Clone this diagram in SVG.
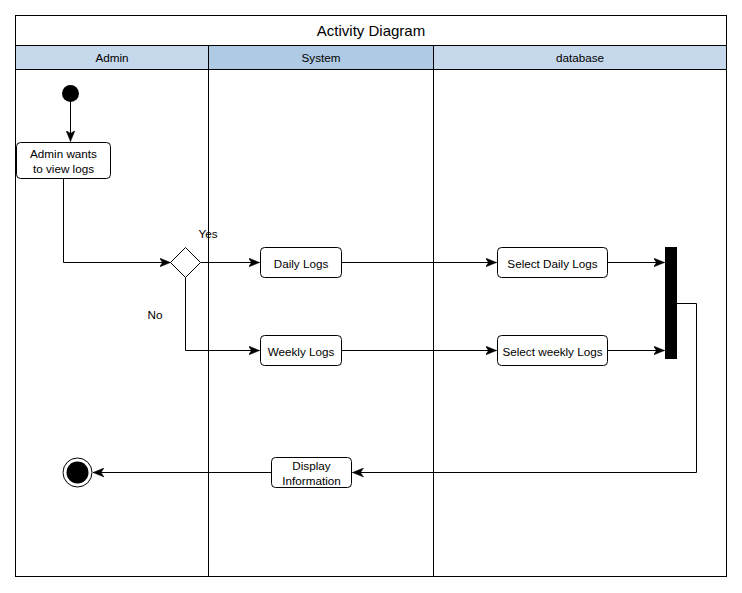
<svg xmlns="http://www.w3.org/2000/svg" width="742" height="593" viewBox="0 0 742 593">
  <style>
    .frame { fill: #ffffff; stroke: #000000; stroke-width: 1; }
    .hdr { stroke: #000000; stroke-width: 1; }
    .lane { fill: none; stroke: #000000; stroke-width: 1; }
    .act { fill: #ffffff; stroke: #000000; stroke-width: 1; }
    .txt { font-family: "Liberation Sans", Arial, sans-serif; font-size: 11.7px; fill: #000000; text-anchor: middle; }
    .title { font-family: "Liberation Sans", Arial, sans-serif; font-size: 15px; fill: #000000; text-anchor: middle; }
    .edge { fill: none; stroke: #000000; stroke-width: 1; }
  </style>
  <defs>
    <marker id="arrow" viewBox="0 0 12 10" refX="11" refY="5" markerWidth="12" markerHeight="10" markerUnits="userSpaceOnUse" orient="auto">
      <path d="M0,0.5 L11,5 L0,9.5 L3,5 Z" fill="#000000" stroke="#000000" stroke-width="0.5"/>
    </marker>
  </defs>

  <rect width="742" height="593" fill="#ffffff"/>

  <!-- Pool frame with title, lane headers and lane dividers -->
  <g id="pool">
    <rect class="frame" x="15.5" y="15.5" width="711" height="561"/>
    <line class="lane" x1="15.5" y1="45.5" x2="726.5" y2="45.5"/>
    <rect class="hdr" x="15.5" y="45.5" width="193" height="24" fill="#c6d8ec"/>
    <rect class="hdr" x="208.5" y="45.5" width="225" height="24" fill="#afcae4"/>
    <rect class="hdr" x="433.5" y="45.5" width="293" height="24" fill="#c6d8ec"/>
    <line class="lane" x1="208.5" y1="69.5" x2="208.5" y2="576.5"/>
    <line class="lane" x1="433.5" y1="69.5" x2="433.5" y2="576.5"/>
    <text class="title" x="371" y="36">Activity Diagram</text>
    <text class="txt" x="112" y="62">Admin</text>
    <text class="txt" x="321" y="62">System</text>
    <text class="txt" x="580" y="62">database</text>
  </g>

  <!-- Connectors -->
  <g id="connectors">
    <path class="edge" d="M70.5,102 L70.5,141.5" marker-end="url(#arrow)"/>
    <path class="edge" d="M63.5,178 L63.5,262.5 L170.5,262.5" marker-end="url(#arrow)"/>
    <path class="edge" d="M201,262.5 L259.5,262.5" marker-end="url(#arrow)"/>
    <path class="edge" d="M185.5,277 L185.5,350.5 L259.5,350.5" marker-end="url(#arrow)"/>
    <path class="edge" d="M342,262.5 L496.5,262.5" marker-end="url(#arrow)"/>
    <path class="edge" d="M342,350.5 L496.5,350.5" marker-end="url(#arrow)"/>
    <path class="edge" d="M608,262.5 L664.5,262.5" marker-end="url(#arrow)"/>
    <path class="edge" d="M608,350.5 L664.5,350.5" marker-end="url(#arrow)"/>
    <path class="edge" d="M677,303.5 L696.5,303.5 L696.5,472.5 L352.5,472.5" marker-end="url(#arrow)"/>
    <path class="edge" d="M271,472.5 L93,472.5" marker-end="url(#arrow)"/>
    <text class="txt" x="208" y="238">Yes</text>
    <text class="txt" x="155" y="319">No</text>
  </g>

  <g id="start">
    <circle cx="70.5" cy="93.5" r="8.5" fill="#000000"/>
  </g>

  <g id="admin-wants">
    <rect class="act" x="16.5" y="142.5" width="94" height="36" rx="4"/>
    <text class="txt" x="63.5" y="157.5">Admin wants</text>
    <text class="txt" x="63.5" y="172.5">to view logs</text>
  </g>

  <g id="decision">
    <path class="act" d="M185.5,247.5 L200.5,262.5 L185.5,277.5 L170.5,262.5 Z"/>
  </g>

  <g id="daily-logs">
    <rect class="act" x="260.5" y="247.5" width="81" height="30" rx="4"/>
    <text class="txt" x="301" y="268">Daily Logs</text>
  </g>

  <g id="weekly-logs">
    <rect class="act" x="260.5" y="335.5" width="81" height="30" rx="4"/>
    <text class="txt" x="301" y="356">Weekly Logs</text>
  </g>

  <g id="select-daily">
    <rect class="act" x="497.5" y="247.5" width="110" height="30" rx="4"/>
    <text class="txt" x="552.5" y="268">Select Daily Logs</text>
  </g>

  <g id="select-weekly">
    <rect class="act" x="497.5" y="335.5" width="110" height="30" rx="4"/>
    <text class="txt" x="552.5" y="356">Select weekly Logs</text>
  </g>

  <g id="join-bar">
    <rect x="665" y="247" width="12" height="112" fill="#000000"/>
  </g>

  <g id="display-info">
    <rect class="act" x="271.5" y="457.5" width="80" height="30" rx="4"/>
    <text class="txt" x="311.5" y="470">Display</text>
    <text class="txt" x="311.5" y="485">Information</text>
  </g>

  <g id="end">
    <circle cx="77.5" cy="472.5" r="14.5" fill="#ffffff" stroke="#000000" stroke-width="1"/>
    <circle cx="77.5" cy="472.5" r="11" fill="#000000"/>
  </g>
</svg>
